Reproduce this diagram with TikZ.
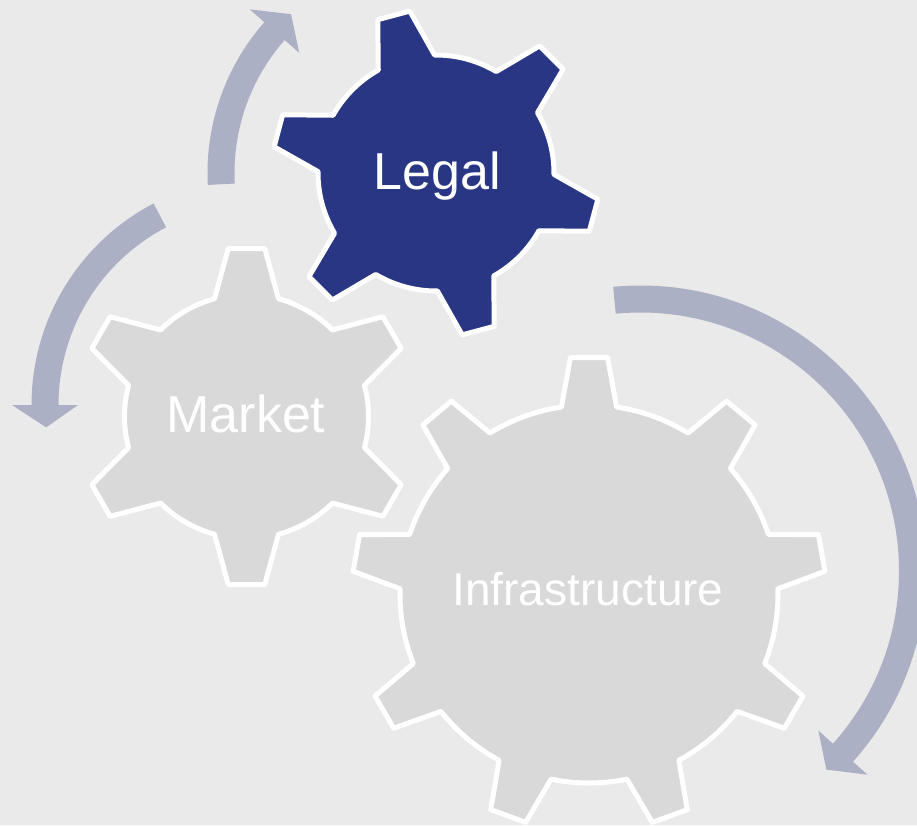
\documentclass[tikz,border=0pt]{standalone}
\usepackage{fontspec}
\setmainfont{Liberation Sans}
\definecolor{bgcol}{RGB}{234,234,234}
\definecolor{geargray}{RGB}{217,217,217}
\definecolor{legalblue}{RGB}{40,54,132}
\definecolor{arrowcol}{RGB}{172,176,196}
\tikzset{
  gearshape/.style={draw=white, line width=5pt, line join=round},
  arrowfill/.style={fill=arrowcol},
  geartext/.style={text=white, inner sep=0pt, anchor=base},
}
% #1 center, #2 teeth, #3 tip radius, #4 root radius, #5 tip half angle, #6 base half angle, #7 first tooth angle, #8 fill
\newcommand{\drawgear}[8]{%
  \pgfmathsetmacro\gstep{360/#2}%
  \draw[gearshape, fill=#8, shift={#1}] ({#7-#6}:#4pt)
    \foreach \k in {1,...,#2}{
      -- ({#7+\gstep*(\k-1)-#5}:#3pt) -- ({#7+\gstep*(\k-1)+#5}:#3pt)
      -- ({#7+\gstep*(\k-1)+#6}:#4pt)
      arc[start angle={#7+\gstep*(\k-1)+#6}, end angle={#7+\gstep*\k-#6}, radius=#4pt]
    } -- cycle;
}
% #1 center, #2 radius, #3 tail angle, #4 head base angle, #5 tip angle
\newcommand{\circarrow}[5]{%
  \pgfmathsetmacro\aro{#2+13.5}%
  \pgfmathsetmacro\ari{#2-13.5}%
  \pgfmathsetmacro\abo{#2+33}%
  \pgfmathsetmacro\abi{#2-33}%
  \fill[arrowfill, shift={#1}] ({#3}:\aro pt)
    arc[start angle={#3}, end angle={#4}, radius=\aro pt]
    -- ({#4}:\abo pt) -- ({#5}:#2pt) -- ({#4}:\abi pt) -- ({#4}:\ari pt)
    arc[start angle={#4}, end angle={#3}, radius=\ari pt] -- cycle;
}
\begin{document}
\begin{tikzpicture}[x=1pt,y=1pt]
  \useasboundingbox (0,0) rectangle (917,-825);
  \clip (0,0) rectangle (917,-825);
  \fill[bgcol] (0,0) rectangle (917,-825);

  % arrows
  \circarrow{(436,-173)}{215}{183}{138.7}{132.4}
  \circarrow{(259,-405)}{214}{117.6}{180}{186}
  \circarrow{(640.5,-571)}{272}{95.5}{-41.9}{-46.9}

  % gears
  \drawgear{(246.5,-416.5)}{6}{169}{122}{6.2}{15.2}{90}{geargray}
  \drawgear{(589,-594)}{9}{237}{189}{4.5}{8.4}{90}{geargray}
  \drawgear{(436,-173)}{6}{164}{118}{5.8}{14.3}{105}{legalblue}

  % labels
  \node[geartext, font=\fontsize{52}{60}\selectfont] (legal) at (437,-189) {Legal};
  \node[geartext, font=\fontsize{52}{60}\selectfont] (market) at (246,-432) {Market};
  \node[geartext, font=\fontsize{46}{54}\selectfont] (infra) at (588,-605) {Infrastructure};
\end{tikzpicture}
\end{document}
